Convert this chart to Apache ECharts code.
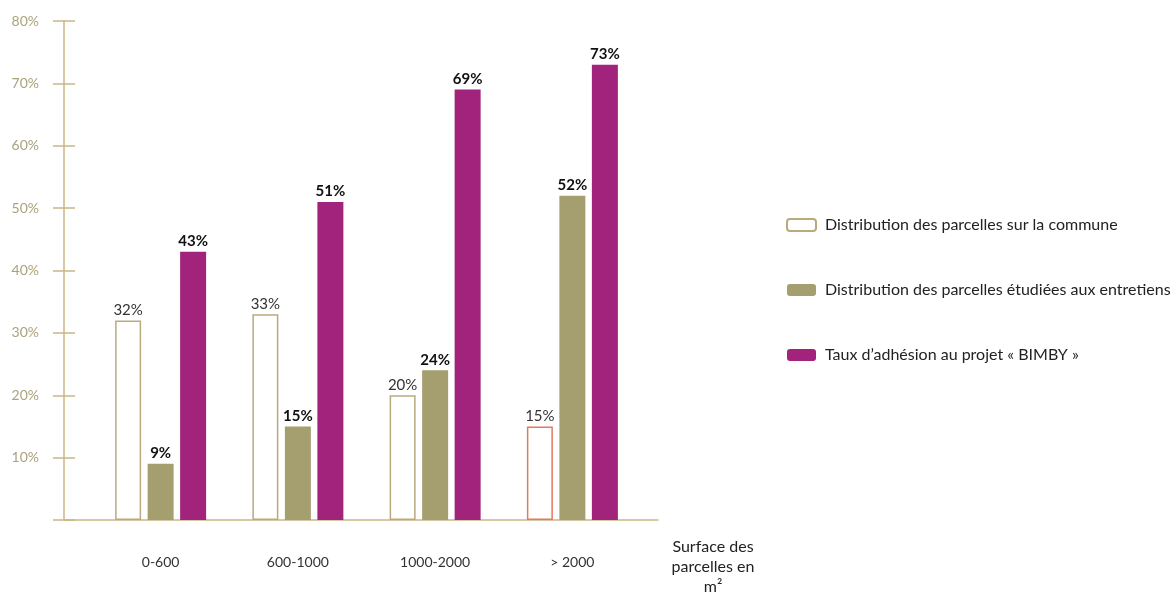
<!DOCTYPE html>
<html><head><meta charset="utf-8">
<script src="https://cdn.jsdelivr.net/npm/echarts@6/dist/echarts.min.js"></script>
<style>html,body{margin:0;padding:0;background:#fff}#c{width:1172px;height:592px}</style>
</head><body><div id="c"></div>
<script>
const categories = ['0-600', '600-1000', '1000-2000', '> 2000'];
const commune = [32, 33, 20, 15];
const entretiens = [9, 15, 24, 52];
const adhesion = [43, 51, 69, 73];
const yTicks = [0, 10, 20, 30, 40, 50, 60, 70, 80];
const seriesNames = ['Distribution des parcelles sur la commune', 'Distribution des parcelles étudiées aux entretiens', 'Taux d\u2019adhésion au projet « BIMBY »'];
const axisName = 'Surface des\nparcelles en\nm²';

const FONT = 'Lato';
const axisCol = '#c9b684';
const chart = echarts.init(document.getElementById('c'));
const labelBold = {show: true, position: 'top', distance: 3, formatter: '{c}%', fontFamily: FONT, fontSize: 15, fontWeight: 'bold', color: '#111'};
const yMin = yTicks[0], yMax = yTicks[yTicks.length - 1];
chart.setOption({
  backgroundColor: '#fff',
  animation: false,
  textStyle: {fontFamily: FONT},
  grid: [
    {left: 92, right: 531, top: 21, bottom: 72},
    {left: 64, right: 514, top: 21, bottom: 72}
  ],
  xAxis: [
    {type: 'category', gridIndex: 0, data: categories,
     axisLine: {show: false}, axisTick: {show: false},
     axisLabel: {margin: 35, fontFamily: FONT, fontSize: 14, color: '#333'}},
    {type: 'value', gridIndex: 1, min: 0, max: 1, show: true,
     axisLine: {show: true, lineStyle: {color: axisCol, width: 1.5}},
     axisTick: {show: false}, axisLabel: {show: false}, splitLine: {show: false}}
  ],
  yAxis: [
    {type: 'value', gridIndex: 0, position: 'left', offset: 17, min: yMin, max: yMax, interval: 10,
     axisLine: {show: false},
     axisTick: {show: true, length: 22, lineStyle: {color: axisCol, width: 1.5}},
     axisLabel: {show: false}, splitLine: {show: false}},
    {type: 'value', gridIndex: 1, position: 'left', min: yMin, max: yMax, interval: 10,
     axisLine: {show: true, lineStyle: {color: axisCol, width: 1.5}},
     axisTick: {show: false},
     axisLabel: {margin: 25, fontFamily: FONT, fontSize: 14, color: '#aaa37c', padding: [8, 0, 0, 0],
       formatter: v => v === 0 ? '' : v + '%'},
     splitLine: {show: false}}
  ],
  title: {text: axisName, left: 708, top: 532, textAlign: 'center',
    textStyle: {fontFamily: FONT, fontSize: 16, fontWeight: 'normal', color: '#222', lineHeight: 20}},
  legend: {orient: 'vertical', left: 781, top: 212, itemWidth: 29, itemHeight: 12, itemGap: 49,
    textStyle: {fontFamily: FONT, fontSize: 16, color: '#222', padding: [0, 0, 0, 4]},
    data: seriesNames},
  series: [
    {name: seriesNames[0], type: 'bar', xAxisIndex: 0, yAxisIndex: 0, barWidth: 26, barGap: '25%',
     itemStyle: {color: '#ffffff', borderColor: '#b9aa7e', borderWidth: 1.5},
     label: {show: true, position: 'top', distance: 3, formatter: '{c}%', fontFamily: FONT, fontSize: 15, color: '#333'},
     data: commune.map((v, i) => i === categories.length - 1 ? {value: v, itemStyle: {borderColor: '#e27a5c'}} : v)},
    {name: seriesNames[1], type: 'bar', xAxisIndex: 0, yAxisIndex: 0, barWidth: 26, barGap: '25%',
     itemStyle: {color: '#a59f70'}, label: labelBold, data: entretiens},
    {name: seriesNames[2], type: 'bar', xAxisIndex: 0, yAxisIndex: 0, barWidth: 26, barGap: '25%',
     itemStyle: {color: '#a2237b'}, label: labelBold, data: adhesion}
  ]
});
</script></body></html>
